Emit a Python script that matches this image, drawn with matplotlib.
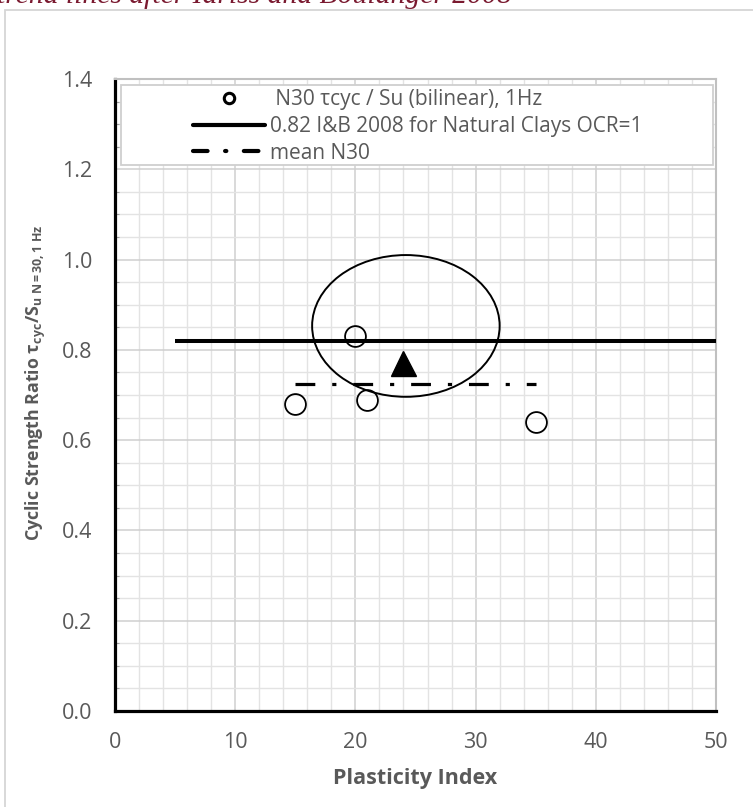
import matplotlib
matplotlib.use("Agg")
import matplotlib.pyplot as plt
from matplotlib.patches import Ellipse, Rectangle
from matplotlib.lines import Line2D
from matplotlib.ticker import MultipleLocator

# ---- data ----
pi_points = [15, 20, 21, 35]
ratio_points = [0.68, 0.83, 0.69, 0.64]

ib_x = [5, 50]
ib_y = [0.82, 0.82]

mean_x = [15, 35]
mean_y = [0.725, 0.725]

tri_x = [24.0]
tri_y = [0.771]

ell_center = (24.2, 0.853)
ell_width = 15.6
ell_height = 0.314

x_ticks = [0, 10, 20, 30, 40, 50]
y_ticks = [0.0, 0.2, 0.4, 0.6, 0.8, 1.0, 1.2, 1.4]

labels = [" N30 \u03c4cyc / Su (bilinear), 1Hz",
          "0.82 I&B 2008 for Natural Clays OCR=1",
          "mean N30"]

plt.rcParams['font.family'] = ['Open Sans', 'DejaVu Sans']
plt.rcParams['mathtext.fontset'] = 'custom'
plt.rcParams['mathtext.rm'] = 'Open Sans'
plt.rcParams['mathtext.bf'] = 'Open Sans:bold'
plt.rcParams['mathtext.it'] = 'Open Sans:italic'

W, H = 753, 807
fig = plt.figure(figsize=(W / 100, H / 100), dpi=100)
fig.patch.set_facecolor('white')

# outer frame of screenshot
fig.patches.append(Rectangle((5 / W, -0.1), 1.2, 1 - 10 / H + 0.1,
                             transform=fig.transFigure, fill=False,
                             edgecolor='#d6d6d6', linewidth=1.3))
# clipped title (as in the source screenshot)
fig.text(-3 / W, 1 - 3 / H, "trend lines after Idriss and Boulanger 2008",
         family='Liberation Serif', style='italic', fontsize=21.3,
         color='#7a1a30', va='baseline', ha='left')

L, R, B, T = 115, 716, 711, 79
ax = fig.add_axes([L / W, 1 - B / H, (R - L) / W, (B - T) / H])

ax.set_xlim(0, 50)
ax.set_ylim(0, 1.4)
ax.set_xticks(x_ticks)
ax.set_yticks(y_ticks)
ax.set_yticklabels([f"{v:.1f}" for v in y_ticks])
ax.xaxis.set_minor_locator(MultipleLocator(2))
ax.yaxis.set_minor_locator(MultipleLocator(0.05))

ax.grid(which='major', color='#cfcfcf', linewidth=1.1)
ax.grid(which='minor', color='#e3e3e3', linewidth=1.0)
ax.set_axisbelow(True)

ax.tick_params(which='major', length=0, labelsize=15.5, labelcolor='#595959')
ax.tick_params(axis='y', which='major', pad=16.5)
ax.tick_params(axis='x', which='major', pad=15)
ax.tick_params(which='minor', direction='in', length=3, color='#a0a0a0', width=0.8)
ax.tick_params(axis='x', which='minor', length=0)

for s in ['left', 'bottom']:
    ax.spines[s].set_color('black')
    ax.spines[s].set_linewidth(2.3)
for s in ['top', 'right']:
    ax.spines[s].set_color('#c0c0c0')
    ax.spines[s].set_linewidth(1.5)

ax.set_xlabel("Plasticity Index", fontsize=15.5, fontweight='bold', color='#595959')
ax.xaxis.set_label_coords(0.5, -0.09)
ax.set_ylabel(r"Cyclic Strength Ratio $\mathbf{\tau_{cyc}/S_{u\ N=30,1\ Hz}}$",
              fontsize=12.8, fontweight='bold', color='#595959')
ax.yaxis.set_label_coords(-0.111, 0.519)

# marks
ax.plot(ib_x, ib_y, color='black', linewidth=2.9, solid_capstyle='butt', zorder=3)
mean_line, = ax.plot(mean_x, mean_y, color='black', linewidth=2.3, zorder=3)
mean_line.set_dashes([6.2, 5.3, 1.3, 5.3])
ax.plot(pi_points, ratio_points, linestyle='none', marker='o', markersize=15,
        markerfacecolor='none', markeredgecolor='black', markeredgewidth=1.3, zorder=4)
ax.plot(tri_x, tri_y, linestyle='none', marker='^', markersize=18,
        color='black', zorder=4)
ax.add_patch(Ellipse(ell_center, ell_width, ell_height, fill=False,
                     edgecolor='black', linewidth=1.4, zorder=4))

# legend frame
ax.add_patch(Rectangle((0.0095, 0.864), 0.9855, 0.1265, transform=ax.transAxes,
                       facecolor='white', edgecolor='#cfcfcf', linewidth=1.3,
                       zorder=5, clip_on=False))

h1 = Line2D([], [], linestyle='none', marker='o', markersize=7.5,
            markerfacecolor='none', markeredgecolor='black', markeredgewidth=2.2)
h2 = Line2D([], [], color='black', linewidth=3.0, solid_capstyle='round')
h3 = Line2D([], [], color='black', linewidth=3.0, dash_capstyle='round')
h3.set_dashes([3.5, 4.2, 0.3, 4.2])
leg = ax.legend([h1, h2, h3], labels, loc='upper left', frameon=False,
                bbox_to_anchor=((193 - L) / (R - L), (B - 89.5) / (B - T)),
                borderpad=0, borderaxespad=0, fontsize=15, handlelength=3.45,
                handletextpad=0.25, labelspacing=0.27)
for t in leg.get_texts():
    t.set_color('#595959')
leg.set_zorder(6)

fig.savefig("out.png", dpi=100, facecolor='white')
